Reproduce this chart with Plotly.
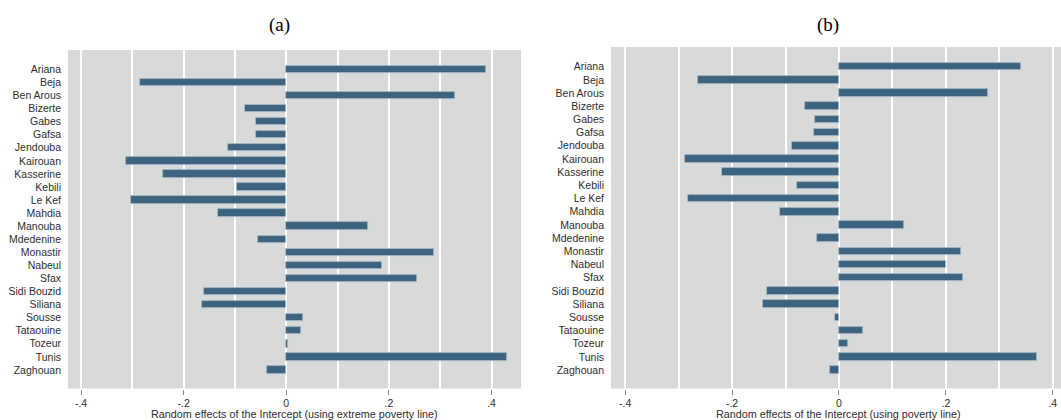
import plotly.graph_objects as go

# Governorates, top to bottom
governorates = [
    "Ariana", "Beja", "Ben Arous", "Bizerte", "Gabes", "Gafsa", "Jendouba",
    "Kairouan", "Kasserine", "Kebili", "Le Kef", "Mahdia", "Manouba",
    "Mdedenine", "Monastir", "Nabeul", "Sfax", "Sidi Bouzid", "Siliana",
    "Sousse", "Tataouine", "Tozeur", "Tunis", "Zaghouan",
]

# Random intercepts, extreme poverty line model (a)
effects_extreme = [
    0.390, -0.286, 0.329, -0.080, -0.059, -0.059, -0.113,
    -0.312, -0.240, -0.097, -0.303, -0.133, 0.159,
    -0.055, 0.287, 0.186, 0.254, -0.161, -0.165,
    0.032, 0.028, 0.003, 0.430, -0.038,
]

# Random intercepts, poverty line model (b)
effects_poverty = [
    0.341, -0.263, 0.278, -0.063, -0.044, -0.046, -0.087,
    -0.288, -0.218, -0.078, -0.283, -0.110, 0.121,
    -0.042, 0.228, 0.201, 0.232, -0.135, -0.142,
    -0.007, 0.044, 0.016, 0.370, -0.016,
]

tick_vals = [-0.4, -0.2, 0, 0.2, 0.4]
tick_text = ["-.4", "-.2", "0", ".2", ".4"]

W, H = 1061, 420
BAR = "#3c6480"
BG = "#d8d9d9"
TXT = "#2e2e2e"
SANS = "Liberation Sans, Arial, sans-serif"
SERIF = "Liberation Serif, Times New Roman, serif"
FS = 10.5

fig = go.Figure()
fig.add_trace(go.Bar(
    x=effects_extreme, y=governorates, orientation="h", width=0.57,
    marker=dict(color=BAR, line=dict(color="#a7b6c1", width=0.8)),
    xaxis="x", yaxis="y", showlegend=False, hoverinfo="x+y",
))
fig.add_trace(go.Bar(
    x=effects_poverty, y=governorates, orientation="h", width=0.57,
    marker=dict(color=BAR, line=dict(color="#a7b6c1", width=0.8)),
    xaxis="x2", yaxis="y2", showlegend=False, hoverinfo="x+y",
))


def px_x(p):
    return p / W


def px_y(p):
    return 1 - p / H


def xaxis_cfg(domain, rng):
    return dict(
        domain=domain, range=rng,
        tickmode="array", tickvals=tick_vals, ticktext=tick_text,
        ticks="outside", ticklen=5, tickwidth=1, tickcolor="#8a8a8a",
        tickfont=dict(family=SANS, size=FS, color=TXT),
        showgrid=True, gridcolor="white", gridwidth=1.5,
        minor=dict(dtick=0.1, tick0=0, showgrid=True, gridcolor="white",
                   gridwidth=1.5, ticks=""),
        zeroline=False, showline=False, fixedrange=True,
    )


def yaxis_cfg(domain, anchor, rng):
    return dict(
        domain=domain, anchor=anchor,
        type="category", categoryorder="array", categoryarray=governorates,
        range=rng,
        showgrid=False, zeroline=False, showline=False, ticks="",
        ticklabelstandoff=6,
        tickfont=dict(family=SANS, size=FS, color=TXT),
        fixedrange=True,
    )


fig.update_layout(
    width=W, height=H,
    margin=dict(l=0, r=0, t=0, b=0),
    paper_bgcolor="white", plot_bgcolor=BG,
    bargap=0,
    xaxis=xaxis_cfg([px_x(68), px_x(521)], [-0.4254, 0.4575]) | dict(anchor="y"),
    yaxis=yaxis_cfg([px_y(388.5), px_y(50)], "x", [24.42, -1.48]),
    xaxis2=xaxis_cfg([px_x(611), 1.0], [-0.4265, 0.4153]) | dict(anchor="y2"),
    yaxis2=yaxis_cfg([px_y(388.5), px_y(47)], "x2", [24.40, -1.49]),
    annotations=[
        dict(text="(a)", x=px_x(279), y=px_y(25), xref="paper", yref="paper",
             xanchor="center", yanchor="middle", showarrow=False,
             font=dict(family=SERIF, size=19, color="black")),
        dict(text="(b)", x=px_x(828), y=px_y(25), xref="paper", yref="paper",
             xanchor="center", yanchor="middle", showarrow=False,
             font=dict(family=SERIF, size=19, color="black")),
        dict(text="Random effects of the Intercept (using extreme poverty line)",
             x=px_x(294.5), y=px_y(413.5), xref="paper", yref="paper",
             xanchor="center", yanchor="middle", showarrow=False,
             font=dict(family=SANS, size=10.8, color=TXT)),
        dict(text="Random effects of the Intercept (using poverty line)",
             x=px_x(838.8), y=px_y(413.5), xref="paper", yref="paper",
             xanchor="center", yanchor="middle", showarrow=False,
             font=dict(family=SANS, size=10.8, color=TXT)),
    ],
)

fig.write_html("out.html")
